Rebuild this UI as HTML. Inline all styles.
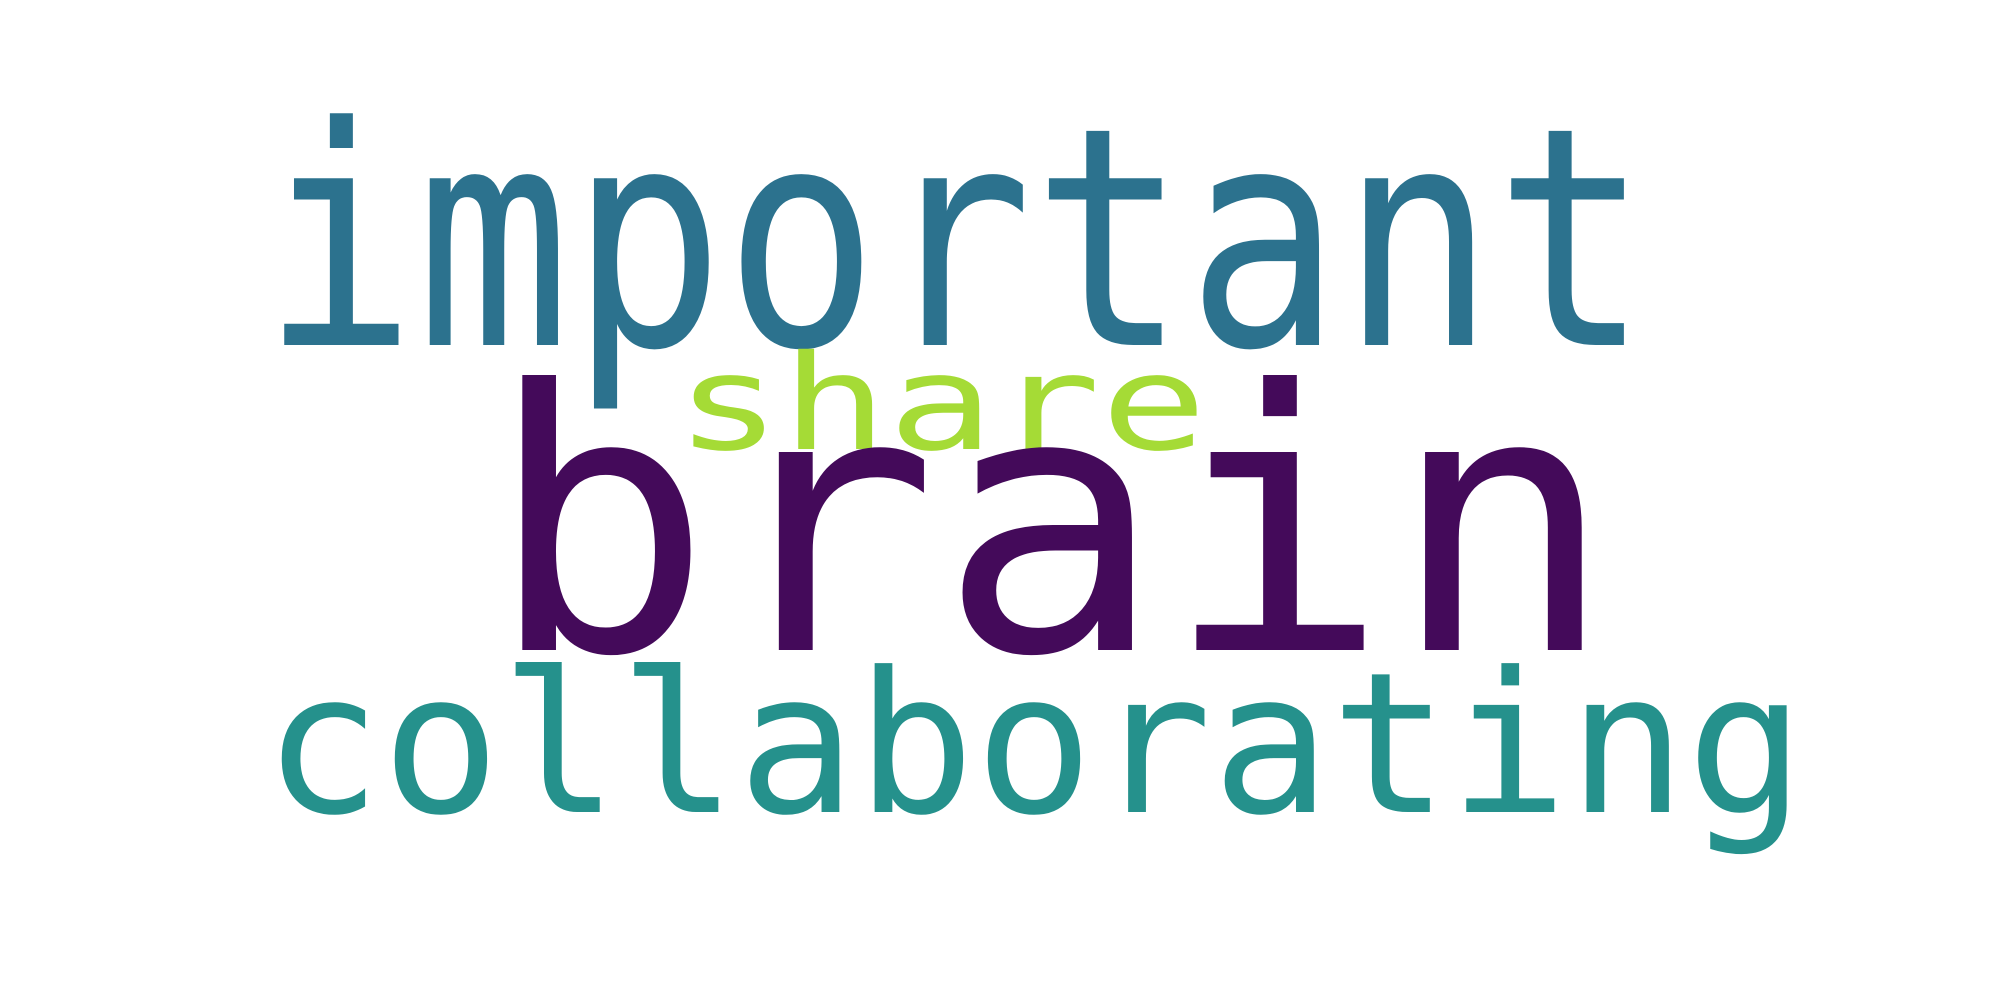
<!DOCTYPE html>
<html><head><meta charset="utf-8"><style>
html,body{margin:0;padding:0;background:#fff;}
svg{display:block;}
text{font-family:"DejaVu Sans Mono","Liberation Mono",monospace;}
</style></head><body>
<svg width="2000" height="1000" viewBox="0 0 2000 1000">
<rect width="2000" height="1000" fill="#ffffff"/>
<text x="262" y="345" font-size="305" fill="#2c728e" textLength="1387" lengthAdjust="spacingAndGlyphs">important</text>
<text x="675" y="449" font-size="132" fill="#a5db36" textLength="532" lengthAdjust="spacingAndGlyphs">share</text>
<text x="487" y="650" font-size="362" fill="#440a5a" textLength="1128" lengthAdjust="spacingAndGlyphs">brain</text>
<text x="263" y="812" font-size="196" fill="#25918c" textLength="1542" lengthAdjust="spacingAndGlyphs">collaborating</text>
</svg>
</body></html>
